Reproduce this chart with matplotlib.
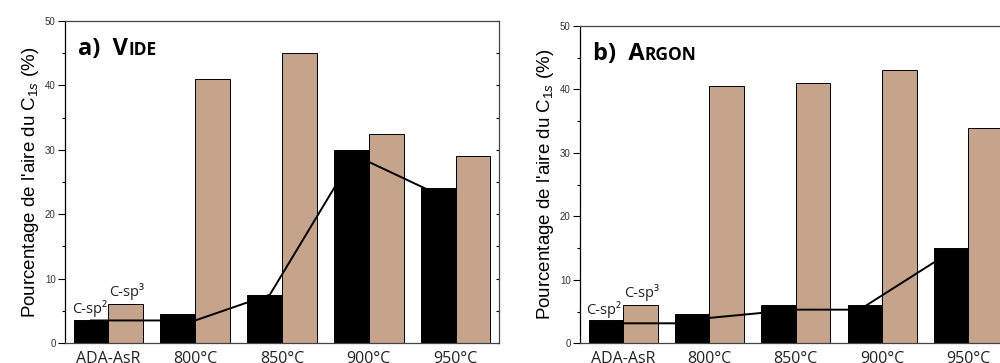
import matplotlib
matplotlib.use("Agg")
import matplotlib.pyplot as plt
import numpy as np
from matplotlib.offsetbox import TextArea, HPacker, AnchoredOffsetbox
from matplotlib.ticker import MultipleLocator

categories = ["ADA-AsR", "800°C", "850°C", "900°C", "950°C"]

# VIDE
vide_sp2 = [3.5, 4.5, 7.4, 30.0, 24.0]
vide_sp3 = [6.0, 41.0, 45.0, 32.5, 29.0]
vide_trend_x = [-0.2, 1.0, 1.86, 2.83, 3.65]
vide_trend_y = [3.5, 3.5, 7.5, 29.2, 24.0]

# ARGON
argon_sp2 = [3.6, 4.6, 6.0, 6.0, 15.0]
argon_sp3 = [6.0, 40.5, 41.0, 43.0, 34.0]
argon_trend_x = [-0.2, 0.6, 1.0, 2.0, 2.74, 3.7]
argon_trend_y = [3.15, 3.15, 4.0, 5.3, 5.3, 13.6]

TAN = "#C5A48B"
plt.rcParams["mathtext.fontset"] = "custom"
plt.rcParams["mathtext.rm"] = "Liberation Sans"
plt.rcParams["mathtext.it"] = "Liberation Sans:italic"

fig = plt.figure(figsize=(10, 3.63), dpi=100)
ax1 = fig.add_axes([0.065, 0.0551, 0.434, 0.887])
ax2 = fig.add_axes([0.580, 0.0543, 0.4315, 0.874])


def draw_panel(ax, sp2, sp3, tx, ty, big, small):
    x = np.arange(len(categories))
    w = 0.4
    ax.bar(x - w / 2, sp2, w, color="black", edgecolor="black", linewidth=0.7, zorder=2)
    ax.bar(x + w / 2, sp3, w, color=TAN, edgecolor="black", linewidth=0.7, zorder=2)
    ax.plot(tx, ty, color="black", linewidth=1.4, zorder=3)

    ax.set_xlim(-0.5, 4.5)
    ax.set_ylim(0, 50)
    ax.set_xticks(x)
    ax.set_xticklabels(categories, fontfamily="Open Sans", fontsize=11.5, color="#222222")
    ax.tick_params(axis="x", length=0, pad=5.5)
    ax.yaxis.set_major_locator(MultipleLocator(10))
    ax.yaxis.set_minor_locator(MultipleLocator(5))
    ax.tick_params(axis="y", which="major", length=4.7, width=0.8, labelsize=7,
                   labelcolor="#333333", pad=2)
    ax.tick_params(axis="y", which="minor", length=2.4, width=0.8)
    for lab in ax.get_yticklabels():
        lab.set_fontfamily("Liberation Sans")

    sec = ax.secondary_yaxis("right")
    sec.yaxis.set_major_locator(MultipleLocator(5))
    sec.tick_params(direction="in", length=2.5, width=0.8, labelright=False)
    sec.spines["right"].set_visible(False)

    for s in ["top", "right", "bottom"]:
        ax.spines[s].set_color("#444444")
    ax.spines["left"].set_color("black")
    for s in ax.spines.values():
        s.set_linewidth(0.9)

    ax.set_ylabel("Pourcentage de l'aire du C$_{1s}$ (%)", fontfamily="Liberation Sans",
                  fontsize=13.5, labelpad=3)

    ax.text(-0.22, 5.3, "C-sp²", fontfamily="Open Sans", fontsize=10.5,
            ha="center", va="center", color="#222222", zorder=4)
    ax.text(0.21, 8.0, "C-sp³", fontfamily="Open Sans", fontsize=10.5,
            ha="center", va="center", color="#222222", zorder=4)

    t1 = TextArea(big, textprops=dict(fontfamily="Open Sans", fontweight="bold",
                                      fontsize=17, color="black"))
    t2 = TextArea(small, textprops=dict(fontfamily="Open Sans", fontweight="bold",
                                        fontsize=12.5, color="black"))
    box = HPacker(children=[t1, t2], align="baseline", pad=0, sep=0)
    anch = AnchoredOffsetbox(loc="upper left", child=box, pad=0, frameon=False,
                             bbox_to_anchor=(0.03, 0.95), bbox_transform=ax.transAxes,
                             borderpad=0)
    ax.add_artist(anch)


draw_panel(ax1, vide_sp2, vide_sp3, vide_trend_x, vide_trend_y, "a)  V", "IDE")
draw_panel(ax2, argon_sp2, argon_sp3, argon_trend_x, argon_trend_y, "b)  A", "RGON")

fig.savefig("out.png", dpi=100)
